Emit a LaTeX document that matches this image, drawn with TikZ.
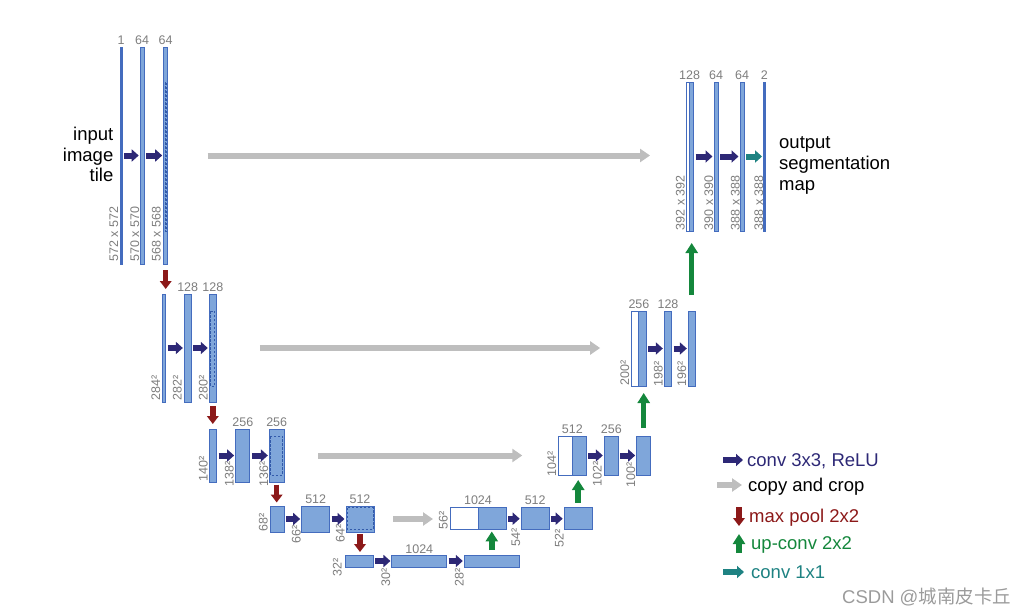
\documentclass[tikz,border=0pt]{standalone}
\usepackage{fontspec}
\setmainfont{Liberation Sans}
\newfontfamily\cjk{Noto Sans CJK SC}
\usetikzlibrary{arrows.meta}
\definecolor{boxfill}{RGB}{127,166,218}
\definecolor{boxline}{RGB}{68,108,190}
\definecolor{cropline}{RGB}{50,90,170}
\definecolor{numgray}{RGB}{125,125,125}
\definecolor{convc}{RGB}{45,40,118}
\definecolor{poolc}{RGB}{140,25,25}
\definecolor{upc}{RGB}{20,135,60}
\definecolor{tealc}{RGB}{30,130,130}
\definecolor{copyc}{RGB}{190,190,190}
\definecolor{wmc}{RGB}{155,155,155}
\tikzset{
  fm/.style 2 args={minimum width=#1pt, minimum height=#2pt},
  box/.style={draw=boxline, fill=boxfill, line width=1pt, inner sep=0pt, outer sep=0pt},
  thinbar/.style={draw=boxline, fill=boxline, line width=0.4pt, inner sep=0pt, outer sep=0pt},
  wbox/.style={draw=boxline, fill=white, line width=1pt, inner sep=0pt, outer sep=0pt},
  crop/.style={draw=cropline, line width=1pt, dash pattern=on 2.5pt off 1.5pt},
  num/.style={font=\fontsize{12.5}{14}\selectfont, text=numgray, anchor=base, inner sep=0pt},
  side/.style={font=\fontsize{12.5}{14}\selectfont, text=numgray, rotate=90, anchor=base west, inner sep=0pt},
  big/.style={font=\fontsize{18.5}{20.7}\selectfont, inner sep=0pt},
  legend/.style={font=\fontsize{18.5}{22}\selectfont, anchor=base west, inner sep=0pt},
  conv/.style={draw=convc, line width=6pt, -{Triangle[width=12pt,length=7pt]}, shorten <=2pt, shorten >=1.5pt},
  teal/.style={draw=tealc, line width=6pt, -{Triangle[width=12pt,length=7pt]}, shorten <=2pt, shorten >=1.5pt},
  copyarr/.style={draw=copyc, line width=6pt, -{Triangle[width=13pt,length=10pt]}},
  pool/.style={draw=poolc, line width=5.5pt, -{Triangle[width=11.5pt,length=8pt]}},
  upconv/.style={draw=upc, line width=5.5pt, -{Triangle[width=12pt,length=10pt]}},
}
\begin{document}
\begin{tikzpicture}[x=1pt,y=-1pt]
\useasboundingbox (0,0) rectangle (1029,613);

% ---------- contracting path ----------
\node[thinbar, fm={1.6}{217}] (b11) at (121,155.5) {};
\node[box, fm={4}{217}] (b12) at (142.2,155.5) {};
\node[box, fm={4}{217}] (b13) at (165.7,155.5) {};

\node[box, fm={3.5}{108}] (b21) at (164,348) {};
\node[box, fm={6.7}{108}] (b22) at (187.7,348) {};
\node[box, fm={7}{108}] (b23) at (212.8,348) {};

\node[box, fm={7}{53}] (b31) at (213.2,455.5) {};
\node[box, fm={14.3}{53}] (b32) at (242.8,455.5) {};
\node[box, fm={14.7}{53}] (b33) at (276.7,455.5) {};

\node[box, fm={14.3}{26}] (b41) at (277.2,519) {};
\node[box, fm={28}{26}] (b42) at (315.7,519) {};
\node[box, fm={28}{26}] (b43) at (360,519) {};

\node[box, fm={28}{12}] (b51) at (359.3,561) {};
\node[box, fm={54.7}{12}] (b52) at (419.3,561) {};
\node[box, fm={55}{12}] (b53) at (491.8,561) {};

% ---------- expansive path ----------
\node[wbox, fm={28}{21.5}] (w4) at (464,518.7) {};
\node[box, fm={28}{21.5}] (u4) at (492,518.7) {};
\node[box, fm={28}{21.5}] (c42) at (535.2,518.7) {};
\node[box, fm={28}{21.5}] (c43) at (578.2,518.7) {};

\node[wbox, fm={14}{39}] (w3) at (565.3,455.5) {};
\node[box, fm={14}{39}] (u3) at (579.3,455.5) {};
\node[box, fm={14}{39}] (c32) at (611.3,455.5) {};
\node[box, fm={14}{39}] (c33) at (643.7,455.5) {};

\node[wbox, fm={7.3}{75}] (w2) at (635.3,348.5) {};
\node[box, fm={7.3}{75}] (u2) at (642.6,348.5) {};
\node[box, fm={7.3}{75}] (c22) at (668,348.5) {};
\node[box, fm={6.7}{75}] (c23) at (691.7,348.5) {};

\node[wbox, fm={3.5}{149}] (w1) at (687.8,156.5) {};
\node[box, fm={4}{149}] (u1) at (691.5,156.5) {};
\node[box, fm={4}{149}] (c12) at (716,156.5) {};
\node[box, fm={4}{149}] (c13) at (742,156.5) {};
\node[thinbar, fm={1.5}{149}] (c14) at (764.3,156.5) {};

% crop regions (dashed, slightly inset)
\draw[crop] ([xshift=1.3pt]b13.west |- w1.north) rectangle ([xshift=-1.3pt]b13.east |- w1.south);
\draw[crop] ([xshift=1.5pt]b23.west |- w2.north) rectangle ([xshift=-1.5pt]b23.east |- w2.south);
\draw[crop] ([xshift=1.5pt]b33.west |- w3.north) rectangle ([xshift=-1.5pt]b33.east |- w3.south);
\draw[crop] ([xshift=1pt]b43.west |- w4.north) rectangle ([xshift=-1pt]b43.east |- w4.south);

% ---------- channel numbers ----------
\node[num] (n11) at ([yshift=2pt]b11.north) {1};
\node[num] (n12) at ([yshift=2pt]b12.north) {64};
\node[num] (n13) at ([yshift=2pt]b13.north) {64};
\node[num] (n22) at ([yshift=2.5pt]b22.north) {128};
\node[num] (n23) at ([yshift=2.5pt]b23.north) {128};
\node[num] (n32) at ([yshift=2.5pt]b32.north) {256};
\node[num] (n33) at ([yshift=2.5pt]b33.north) {256};
\node[num] (n42) at ([yshift=3pt]b42.north) {512};
\node[num] (n43) at ([yshift=3pt]b43.north) {512};
\node[num] (n52) at ([yshift=2pt]b52.north) {1024};
\node[num] (m41) at ([yshift=3pt]w4.north east) {1024};
\node[num] (m42) at ([yshift=3pt]c42.north) {512};
\node[num] (m31) at ([yshift=2.5pt]w3.north east) {512};
\node[num] (m32) at ([yshift=2.5pt]c32.north) {256};
\node[num] (m21) at ([yshift=2.5pt]w2.north east) {256};
\node[num] (m22) at ([yshift=2.5pt]c22.north) {128};
\node[num] (m11) at ([yshift=2.5pt]w1.north east) {128};
\node[num] (m12) at ([yshift=2.5pt]c12.north) {64};
\node[num] (m13) at ([yshift=2.5pt]c13.north) {64};
\node[num] (m14) at ([yshift=2.5pt]c14.north) {2};

% ---------- sizes ----------
\node[side] (s11) at (118,262) {572 x 572};
\node[side] (s12) at (139,262) {570 x 570};
\node[side] (s13) at (160.5,262) {568 x 568};
\node[side] (s21) at (160,400.5) {284²};
\node[side] (s22) at (181.5,400.5) {282²};
\node[side] (s23) at (207.5,400.5) {280²};
\node[side] (s31) at (207.5,482) {140²};
\node[side] (s32) at (233.5,487) {138²};
\node[side] (s33) at (268,487) {136²};
\node[side] (s41) at (267.5,532) {68²};
\node[side] (s42) at (300.5,544) {66²};
\node[side] (s43) at (344.5,543) {64²};
\node[side] (s51) at (341.5,577) {32²};
\node[side] (s52) at (390,587) {30²};
\node[side] (s53) at (463.5,587) {28²};
\node[side] (r41) at (447.5,530) {56²};
\node[side] (r42) at (520,547) {54²};
\node[side] (r43) at (563.5,548) {52²};
\node[side] (r31) at (556,477) {104²};
\node[side] (r32) at (601.5,487) {102²};
\node[side] (r33) at (635,488) {100²};
\node[side] (r21) at (629,386) {200²};
\node[side] (r22) at (662.5,387) {198²};
\node[side] (r23) at (686,387) {196²};
\node[side] (r11) at (684.5,230.5) {392 x 392};
\node[side] (r12) at (713,230.5) {390 x 390};
\node[side] (r13) at (739.5,230.5) {388 x 388};
\node[side] (r14) at (763,230.5) {388 x 388};

% ---------- conv 3x3 ----------
\draw[conv] (b11.east) -- (b12.west);
\draw[conv] (b12.east) -- (b13.west);
\draw[conv] (b21.east) -- (b22.west);
\draw[conv] (b22.east) -- (b23.west);
\draw[conv] (b31.east) -- (b32.west);
\draw[conv] (b32.east) -- (b33.west);
\draw[conv] (b41.east) -- (b42.west);
\draw[conv] (b42.east) -- (b43.west);
\draw[conv] (b51.east) -- (b52.west);
\draw[conv] (b52.east) -- (b53.west);
\draw[conv] (u4.east) -- (c42.west);
\draw[conv] (c42.east) -- (c43.west);
\draw[conv] (u3.east) -- (c32.west);
\draw[conv] (c32.east) -- (c33.west);
\draw[conv] (u2.east) -- (c22.west);
\draw[conv] (c22.east) -- (c23.west);
\draw[conv] (u1.east) -- (c12.west);
\draw[conv] (c12.east) -- (c13.west);
\draw[teal] (c13.east) -- (c14.west);

% ---------- copy and crop ----------
\draw[copyarr, shorten <=40pt, shorten >=36pt] (b13.east) -- (b13.east -| w1.west);
\draw[copyarr, shorten <=43.5pt, shorten >=31.5pt] (b23.east) -- (b23.east -| w2.west);
\draw[copyarr, shorten <=34pt, shorten >=36pt] (b33.east) -- (b33.east -| w3.west);
\draw[copyarr, shorten <=19pt, shorten >=17pt] (b43.east) -- (b43.east -| w4.west);

% ---------- max pool ----------
\draw[pool, shorten <=6pt, shorten >=5pt] (b13.south) -- (b13.south |- b21.north);
\draw[pool, shorten <=4pt, shorten >=5pt] (b23.south) -- (b23.south |- b31.north);
\draw[pool, shorten <=2.5pt, shorten >=3.5pt] (b33.south) -- (b33.south |- b41.north);
\draw[pool, shorten <=2pt, shorten >=3pt] (b43.south) -- (b43.south |- b51.north);

% ---------- up-conv ----------
\draw[upconv, shorten <=5pt, shorten >=2pt] (b53.north) -- (b53.north |- u4.south);
\draw[upconv, shorten <=5pt, shorten >=5pt] (c43.north) -- (c43.north |- u3.south);
\draw[upconv, shorten <=8pt, shorten >=7pt] (c33.north) -- (c33.north |- u2.south);
\draw[upconv, shorten <=16pt, shorten >=12pt] (c23.north) -- (c23.north |- u1.south);

% ---------- input / output text ----------
\node[big, align=right, anchor=north east] (inp) at (113.5,126.8) {input\\image\\tile};
\node[big, align=left, anchor=north west] (outp) at (779,136.6) {output\\segmentation\\map};

% ---------- legend ----------
\coordinate (k1a) at (723,460); \coordinate (k1b) at (743,460);
\coordinate (k2a) at (717,485); \coordinate (k2b) at (742,485);
\coordinate (k3a) at (739,507); \coordinate (k3b) at (739,526);
\coordinate (k4a) at (739,553); \coordinate (k4b) at (739,534);
\coordinate (k5a) at (723,572); \coordinate (k5b) at (744,572);
\draw[draw=convc, line width=6pt, -{Triangle[width=12pt,length=7pt]}] (k1a) -- (k1b);
\draw[copyarr] (k2a) -- (k2b);
\draw[pool] (k3a) -- (k3b);
\draw[upconv] (k4a) -- (k4b);
\draw[draw=tealc, line width=6pt, -{Triangle[width=12pt,length=7pt]}] (k5a) -- (k5b);
\node[legend, text=convc] (t1) at (747,466) {conv 3x3, ReLU};
\node[legend, text=black] (t2) at (748,491) {copy and crop};
\node[legend, text=poolc] (t3) at (749,522) {max pool 2x2};
\node[legend, text=upc] (t4) at (751,549) {up-conv 2x2};
\node[legend, text=tealc] (t5) at (751,578) {conv 1x1};

% ---------- watermark ----------
\node[legend, text=wmc] (wm) at (842,603.5) {CSDN @{\cjk 城南皮卡丘}};
\end{tikzpicture}
\end{document}
